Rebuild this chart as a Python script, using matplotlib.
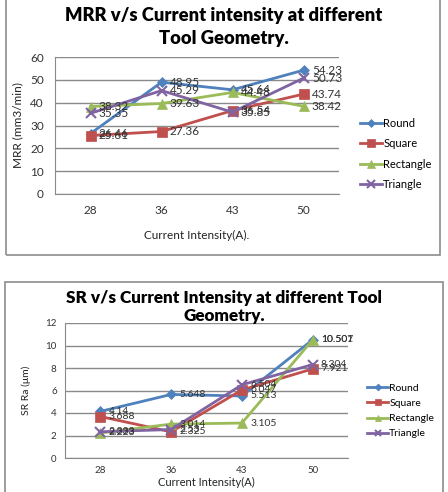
import numpy as np
import matplotlib.pyplot as plt
from matplotlib.patches import Rectangle

current = ['28', '36', '43', '50']
series = ['Round', 'Square', 'Rectangle', 'Triangle']

mrr_round = [26.46, 48.95, 45.64, 54.23]
mrr_square = [25.61, 27.36, 36.54, 43.74]
mrr_rect = [38.32, 39.63, 44.48, 38.42]
mrr_tri = [35.35, 45.29, 35.85, 50.73]

sr_round = [4.14, 5.648, 5.513, 10.507]
sr_square = [3.688, 2.325, 6.047, 7.921]
sr_rect = [2.223, 3.014, 3.105, 10.501]
sr_tri = [2.333, 2.53, 6.504, 8.304]

colors = ['#4F81BD', '#C0504D', '#9BBB59', '#8064A2']
markers = ['D', 's', '^', 'x']
msizes = [5, 7, 7, 7]

plt.rcParams['font.family'] = ['Lato', 'DejaVu Sans']

W, H = 448, 492
fig = plt.figure(figsize=(W / 100, H / 100), dpi=100)


def px_axes(l, t, r, b):
    return fig.add_axes([l / W, 1 - b / H, (r - l) / W, (b - t) / H])


def box(l, t, r, b):
    fig.patches.append(Rectangle((l / W, 1 - b / H), (r - l) / W, (b - t) / H,
                                 transform=fig.transFigure, fill=False,
                                 edgecolor='#8c8c8c', linewidth=1.2))


def draw(ax, data, ymax, step, tick_sz, lab_sz, pad):
    x = np.arange(len(current))
    for vals, name, c, m, ms in zip(data, series, colors, markers, msizes):
        ax.plot(x, vals, color=c, marker=m, markersize=ms, linewidth=2,
                markeredgewidth=1.5 if m == 'x' else 0.5, label=name)
        for xi, v in zip(x, vals):
            ax.annotate(f'{v:g}', (xi, v), xytext=(6, 0), textcoords='offset points',
                        va='center', ha='left', fontsize=lab_sz, color='#333333')
    ax.set_xlim(-0.5, 3.5)
    ax.set_ylim(0, ymax)
    ax.set_yticks(np.arange(0, ymax + 1, step))
    ax.set_xticks(x)
    ax.set_xticklabels(current)
    ax.grid(axis='y', color='#8a8a8a', linewidth=1)
    ax.set_axisbelow(True)
    for s in ['top', 'right']:
        ax.spines[s].set_visible(False)
    for s in ['left', 'bottom']:
        ax.spines[s].set_color('#8a8a8a')
    ax.tick_params(length=0, labelsize=tick_sz, colors='#333333', pad=pad)


# top chart: MRR
box(6, -2, 440, 255)
ax1 = px_axes(55, 57, 339, 194)
draw(ax1, [mrr_round, mrr_square, mrr_rect, mrr_tri], 60, 10, 8.5, 8.5, 8)
ax1.set_xlabel('Current Intensity(A).', fontsize=8.5, color='#222222', labelpad=10)
ax1.set_ylabel('MRR (mm3/min)', fontsize=8.5, color='#222222', labelpad=5)
fig.text(224 / W, 1 - 27 / H, 'MRR v/s Current intensity at different\nTool Geometry.',
         ha='center', va='center', fontsize=13.2, fontweight='heavy', linespacing=1.4)
ax1.legend(loc='center left', bbox_to_anchor=(350 / W, 1 - 154 / H),
           bbox_transform=fig.transFigure, frameon=False, fontsize=8,
           handlelength=2.0, handletextpad=0.1, labelspacing=0.85,
           markerscale=0.75)

# bottom chart: SR
box(5, 282, 443, 495)
ax2 = px_axes(65, 323, 348, 458)
draw(ax2, [sr_round, sr_square, sr_rect, sr_tri], 12, 2, 7, 7.5, 6)
ax2.set_xlabel('Current Intensity(A)', fontsize=8, color='#222222', labelpad=1)
ax2.set_ylabel('SR Ra (\u03bcm)', fontsize=7.5, color='#222222', labelpad=10)
fig.text(224 / W, 1 - 307 / H, 'SR v/s Current Intensity at different Tool\nGeometry.',
         ha='center', va='center', fontsize=12.3, fontweight='heavy', linespacing=1.2)
ax2.legend(loc='center left', bbox_to_anchor=(358 / W, 1 - 411 / H),
           bbox_transform=fig.transFigure, frameon=False, fontsize=7.5,
           handlelength=2.0, handletextpad=0.1, labelspacing=0.55,
           markerscale=0.7)

fig.savefig('out.png', dpi=100)
